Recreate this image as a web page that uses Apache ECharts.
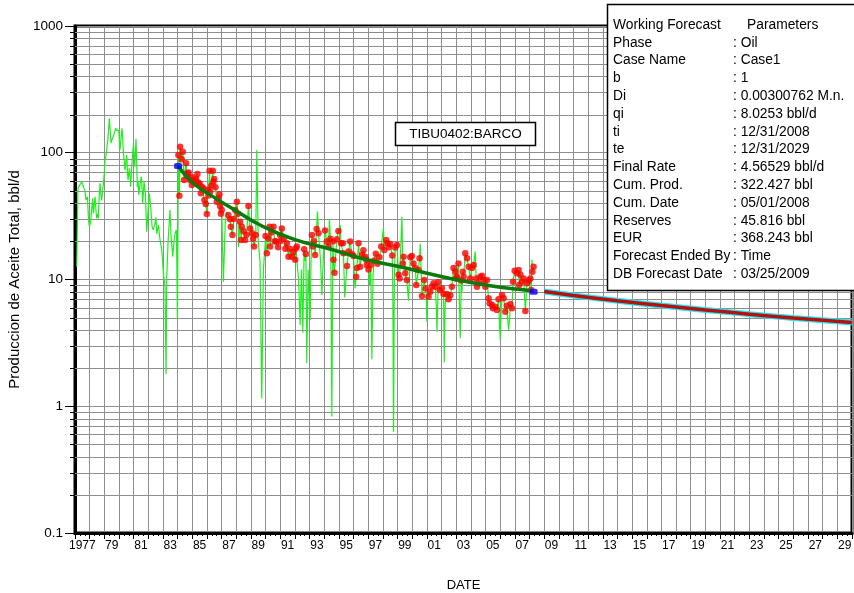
<!DOCTYPE html>
<html><head><meta charset="utf-8">
<script src="https://cdn.jsdelivr.net/npm/echarts@6/dist/echarts.min.js"></script>
<style>html,body{margin:0;padding:0;background:#fff}#c{width:854px;height:593px}</style>
</head><body><div id="c"></div>
<script>
// ---- data (decimal year, bbl/d) ----
const greenEarly = [[1977.12,12.6],[1977.2,52.6],[1977.3,55],[1977.46,59],[1977.57,61],[1977.61,52.6],[1977.68,50],[1977.75,42.4],[1977.85,45],[1977.92,30],[1977.98,26.1],[1978.07,28.6],[1978.14,36],[1978.21,43.7],[1978.25,33.3],[1978.32,40],[1978.37,45],[1978.42,36],[1978.48,30.4],[1978.54,33],[1978.59,30.4],[1978.65,45],[1978.71,57.4],[1978.76,48],[1978.82,42],[1978.88,50],[1978.93,55.7],[1979.0,70],[1979.05,87.7],[1979.1,92],[1979.16,90.4],[1979.25,130],[1979.34,187],[1979.4,150],[1979.46,119],[1979.53,128],[1979.61,134],[1979.7,145],[1979.78,156],[1979.84,150],[1979.89,146.6],[1979.98,151],[1980.07,105],[1980.14,130],[1980.21,156],[1980.3,102],[1980.41,73],[1980.47,85],[1980.53,96],[1980.58,70],[1980.62,61],[1980.71,75.4],[1980.8,54],[1980.89,85],[1980.98,115],[1981.03,95],[1981.08,77.6],[1981.16,129],[1981.2,90],[1981.25,54],[1981.3,60],[1981.35,46.4],[1981.44,57.4],[1981.53,64.7],[1981.62,39.9],[1981.71,59.1],[1981.8,47.9],[1981.89,23.8],[1981.98,34.3],[1982.07,47.9],[1982.17,36.5],[1982.26,26.1],[1982.34,24.6],[1982.46,27.8],[1982.52,31],[1982.58,22.9],[1982.69,26.9],[1982.8,20.5],[1982.92,17.1],[1983.03,11.2],[1983.14,8.8],[1983.21,1.8],[1983.26,10.5],[1983.35,20],[1983.48,35.4],[1983.55,22],[1983.67,15.1],[1983.75,20],[1983.83,23.2],[1983.92,24.6],[1983.99,4.9]];
const greenSpikes = [[1987.12,9.6],[1987.25,28],[1987.35,34],[1988.15,18],[1989.4,105],[1989.5,20],[1989.62,14],[1989.74,1.15],[1989.85,12],[1989.97,19],[1992.25,10],[1992.36,4.38],[1992.45,12],[1992.54,3.8],[1992.68,14],[1992.81,2.18],[1992.9,12],[1993.04,4.79],[1993.1,14],[1993.54,34.3],[1993.75,14],[1993.84,7.55],[1993.95,16],[1994.36,29.9],[1994.45,15],[1994.52,0.83],[1995.09,26.9],[1995.4,7.2],[1996.1,8.5],[1997.1,9],[1997.25,2.35],[1997.33,11],[1998.04,25.3],[1998.68,8],[1998.73,0.63],[1998.78,9],[1999.3,31.3],[1999.75,6.8],[2000.55,19.1],[2000.95,8],[2001.0,4.65],[2001.05,8],[2001.65,6],[2001.69,3.88],[2001.75,7],[2002.19,2.21],[2002.25,6.5],[2003.28,3.44],[2003.4,8],[2004.3,16.6],[2005.95,4.5],[2006.01,3.33],[2006.07,5.5],[2006.5,5],[2006.58,4.0],[2006.66,5.2],[2008.17,14.3]];
const redDots = [[1984.05,96],[1984.12,45.8],[1984.17,111.6],[1984.28,88.8],[1984.35,102],[1984.44,61],[1984.58,82.6],[1984.62,68.9],[1984.69,65.6],[1984.75,70],[1984.85,61],[1984.97,55.7],[1985.0,64],[1985.07,61],[1985.19,59.1],[1985.27,62],[1985.35,68],[1985.42,58],[1985.5,57],[1985.58,48],[1985.65,54],[1985.76,52.4],[1985.83,42.4],[1985.92,39.4],[1985.99,32.9],[1986.05,50.8],[1986.1,46],[1986.18,72.2],[1986.22,49.3],[1986.3,55],[1986.4,72.2],[1986.44,59.1],[1986.5,62],[1986.58,53.4],[1986.67,41.1],[1986.78,43.7],[1986.85,47],[1986.9,38],[1986.95,33],[1987.01,35.4],[1987.46,32.3],[1987.58,29.9],[1987.63,26.1],[1987.74,22.4],[1987.83,30],[1987.92,35.4],[1988.04,41.1],[1988.12,33],[1988.26,28.6],[1988.33,20.5],[1988.38,26.1],[1988.5,24],[1988.6,20.5],[1988.7,22.5],[1988.83,38],[1988.95,25.3],[1989.08,23.2],[1989.15,21],[1989.22,18.2],[1989.33,22.4],[1990.0,22],[1990.09,16.1],[1990.19,21.1],[1990.28,26.1],[1990.31,18.2],[1990.4,23.5],[1990.54,26.1],[1990.62,20],[1990.72,19.9],[1990.85,18],[1990.99,22.4],[1991.0,20],[1991.11,25.3],[1991.25,21],[1991.35,17.5],[1991.45,19.3],[1991.56,15.1],[1991.65,17.5],[1991.79,15.1],[1991.9,16.5],[1992.02,14.3],[1992.06,17.6],[1992.13,18.2],[1992.63,17.3],[1992.75,15.9],[1993.16,22.4],[1993.22,18.2],[1993.3,20],[1993.38,15.6],[1993.48,25],[1993.61,23.2],[1994.06,24.3],[1994.18,19.9],[1994.29,18.2],[1994.42,21],[1994.59,19.9],[1994.63,14.3],[1994.7,11.3],[1994.86,20.8],[1994.97,24.1],[1995.14,19.3],[1995.27,19.3],[1995.31,16.1],[1995.55,12.8],[1995.66,16.6],[1995.77,19.9],[1995.89,15.9],[1996.0,15.3],[1996.18,10.5],[1996.23,12.3],[1996.34,19.3],[1996.45,12.6],[1996.57,15.6],[1996.67,17],[1996.8,15.1],[1996.86,14.3],[1996.91,13.0],[1997.02,12.0],[1997.17,13],[1997.41,14.1],[1997.52,16],[1997.63,13.3],[1997.77,15.0],[1997.89,18.2],[1998.1,17.1],[1998.23,20.5],[1998.32,19.3],[1998.4,18],[1998.5,19.1],[1998.64,15.5],[1998.84,17.9],[1998.96,18.7],[1999.07,10.9],[1999.14,10.2],[1999.36,13.4],[1999.41,15.1],[1999.53,11.2],[1999.64,9.9],[1999.87,15.0],[1999.98,15.3],[2000.09,13.4],[2000.21,12.3],[2000.28,9.05],[2000.43,11.9],[2000.5,14.7],[2000.67,7.41],[2000.82,9.9],[2000.92,8.5],[2001.12,7.32],[2001.23,8.01],[2001.35,8.8],[2001.46,9.33],[2001.57,8.77],[2001.78,9.5],[2001.87,8.26],[2002.03,8.52],[2002.14,7.69],[2002.37,7.69],[2002.48,6.98],[2002.6,7.5],[2002.71,8.77],[2002.82,12.3],[2002.94,11.5],[2002.98,10.2],[2003.05,10.5],[2003.16,13.4],[2003.35,9.8],[2003.45,11.5],[2003.51,10.5],[2003.62,16.1],[2003.74,14.7],[2003.85,12.6],[2003.96,10.2],[2004.08,12.3],[2004.19,13.0],[2004.36,10.2],[2004.42,8.77],[2004.53,9.33],[2004.64,10.5],[2004.76,10.7],[2004.87,9.9],[2004.99,8.77],[2005.1,9.9],[2005.21,7.11],[2005.28,6.49],[2005.44,6.29],[2005.51,5.93],[2005.67,6.1],[2005.78,5.75],[2005.89,6.98],[2006.13,7.55],[2006.24,7.11],[2006.35,5.57],[2006.45,6.2],[2006.7,6.4],[2006.81,5.93],[2006.88,9.6],[2006.99,11.7],[2007.15,11.2],[2007.26,11.9],[2007.3,9.05],[2007.38,10.9],[2007.49,9.6],[2007.6,10.2],[2007.72,5.64],[2007.83,9.33],[2007.95,9.8],[2008.06,10.2],[2008.12,8.26],[2008.2,11.5],[2008.28,12.6]];
const fitCurve = [[1984.03,78.6],[1985,58.5],[1986.22,46.5],[1988.04,34.5],[1989.63,26.9],[1991.9,20.8],[1994.63,17.1],[1996.91,14.3],[1999.18,12.6],[2001.46,10.9],[2003.74,9.6],[2006.01,8.7],[2008.06,8.2]];
const forecast = [[2009.0,8.03],[2011,7.49],[2014,6.80],[2017,6.23],[2020,5.75],[2023,5.33],[2026,4.97],[2030,4.57]];
const anchorPts = [[1984.03,78.6],[2008.28,8.0]];
const yMajor = [0.1,1,10,100,1000];
const minorMult = [2,3,4,5,6,7,8,9];
const paramLabels = ['Phase','Case Name','b','Di','qi','ti','te','Final Rate','Cum. Prod.','Cum. Date','Reserves','EUR','Forecast Ended By','DB Forecast Date'];
const paramValues = [': Oil',': Case1',': 1',': 0.00300762 M.n.',': 8.0253 bbl/d',': 12/31/2008',': 12/31/2029',': 4.56529 bbl/d',': 322.427 bbl',': 05/01/2008',': 45.816 bbl',': 368.243 bbl',': Time',': 03/25/2009'];
const wellName = 'TIBU0402:BARCO';

// ---- build ----
const greenLine = greenEarly.concat(greenSpikes, redDots).sort((a,b)=>a[0]-b[0]);
const minorGrid = [];
yMajor.slice(0,-1).forEach(d => minorMult.forEach(m => minorGrid.push([1977, +(d*m).toPrecision(3)])));
const FONT = "'Liberation Sans', Arial, sans-serif";

const chart = echarts.init(document.getElementById('c'), null, {renderer:'canvas'});
const gridColor = '#8e8e8e';

const graphics = [];
graphics.push({type:'rect', z:100, shape:{x:607.5, y:4.5, width:260, height:286}, style:{fill:'#fff', stroke:'#000', lineWidth:1.5}});
graphics.push({type:'text', z:101, x:613, y:25, style:{text:'Working Forecast', fontSize:13.8, fontFamily:FONT, fill:'#000', verticalAlign:'middle'}});
graphics.push({type:'text', z:101, x:747, y:25, style:{text:'Parameters', fontSize:13.8, fontFamily:FONT, fill:'#000', verticalAlign:'middle'}});
paramLabels.forEach((t,i) => {
  const y = 25 + (i+1)*17.8;
  graphics.push({type:'text', z:101, x:613, y:y, style:{text:t, fontSize:13.8, fontFamily:FONT, fill:'#000', verticalAlign:'middle'}});
  graphics.push({type:'text', z:101, x:733, y:y, style:{text:paramValues[i], fontSize:13.8, fontFamily:FONT, fill:'#000', verticalAlign:'middle'}});
});
graphics.push({type:'rect', z:100, shape:{x:395.5, y:122.5, width:140, height:23}, style:{fill:'#fff', stroke:'#000', lineWidth:1.5}});
graphics.push({type:'text', z:101, x:465.5, y:134, style:{text:wellName, fontSize:13.5, fontFamily:FONT, fill:'#000', align:'center', verticalAlign:'middle'}});

const option = {
  backgroundColor:'#fff',
  animation:false,
  textStyle:{fontFamily:FONT},
  grid:{left:75, top:26, right:2, bottom:60, show:true, borderColor:'#000', borderWidth:3, backgroundColor:'transparent', outerBoundsMode:'none'},
  xAxis:[
    {type:'value', min:1977, max:2030, interval:0.5, position:'bottom',
     axisLine:{show:false}, axisTick:{show:false}, splitLine:{show:false},
     axisLabel:{margin:7, fontSize:12, color:'#000', fontFamily:FONT, showMinLabel:true, showMaxLabel:true,
       formatter:v => { const y=Math.floor(v); if (Math.abs(v-y-0.5)>1e-6 || y%2===0) return ''; return y===1977?'1977':String(y%100).padStart(2,'0'); }},
     name:'DATE', nameLocation:'middle', nameGap:46, nameTextStyle:{fontSize:13, color:'#000', fontFamily:FONT}},
    {type:'value', min:1977, max:2030, interval:1, position:'bottom',
     axisLine:{show:true, onZero:false, lineStyle:{color:'#000', width:3}},
     axisTick:{show:true, length:6, lineStyle:{color:'#000', width:1}},
     minorTick:{show:true, splitNumber:3, length:3, lineStyle:{color:'#000', width:1}},
     splitLine:{show:true, lineStyle:{color:gridColor, width:1}},
     axisLabel:{show:false}}
  ],
  yAxis:{type:'log', logBase:10, min:0.1, max:1000,
    axisLine:{show:true, onZero:false, lineStyle:{color:'#000', width:3}},
    axisTick:{show:true, length:10, lineStyle:{color:'#000', width:1}},
    splitLine:{show:true, lineStyle:{color:gridColor, width:1}},
    axisLabel:{margin:12, fontSize:13.5, color:'#000', fontFamily:FONT, formatter:v => String(+(+v).toPrecision(3))},
    name:'Produccion de Aceite Total, bbl/d', nameLocation:'middle', nameGap:48, nameRotate:90,
    nameTextStyle:{fontSize:15, color:'#000', fontFamily:FONT}},
  graphic: graphics,
  series:[
    {type:'custom', name:'minorGrid', xAxisIndex:1, z:1, silent:true, clip:false, data:minorGrid,
     renderItem:(params, api) => {
       const v = api.value(1);
       const p1 = api.coord([1977, v]); const p2 = api.coord([2030, v]);
       const y = Math.round(p1[1]) + 0.5;
       return {type:'group', children:[
         {type:'line', shape:{x1:p1[0], y1:y, x2:p2[0], y2:y}, style:{stroke:gridColor, lineWidth:1}},
         {type:'line', shape:{x1:p1[0]-5, y1:y, x2:p1[0], y2:y}, style:{stroke:'#000', lineWidth:1}}
       ]};
     }},
    {type:'line', name:'Production', xAxisIndex:1, z:3, data:greenLine, showSymbol:false, symbol:'none',
     lineStyle:{color:'#1def1d', width:1.2}},
    {type:'scatter', name:'Fit points', xAxisIndex:1, z:4, data:redDots, symbol:'circle', symbolSize:6.5,
     itemStyle:{color:'#ff0000'}},
    {type:'line', name:'Fit', xAxisIndex:1, z:5, data:fitCurve, smooth:true, showSymbol:false, symbol:'none',
     lineStyle:{color:'#0b7a0b', width:3.5}},
    {type:'line', name:'Forecast halo', xAxisIndex:1, z:5, data:forecast, smooth:true, showSymbol:false, symbol:'none',
     lineStyle:{color:'#22e6f0', width:6}},
    {type:'line', name:'Forecast', xAxisIndex:1, z:6, data:forecast, smooth:true, showSymbol:false, symbol:'none',
     lineStyle:{color:'#b81010', width:3.5}},
    {type:'scatter', name:'Anchors', xAxisIndex:1, z:7, data:anchorPts, symbol:'roundRect', symbolSize:[8,6],
     itemStyle:{color:'#0000ff'}}
  ]
};
chart.setOption(option);
</script></body></html>
